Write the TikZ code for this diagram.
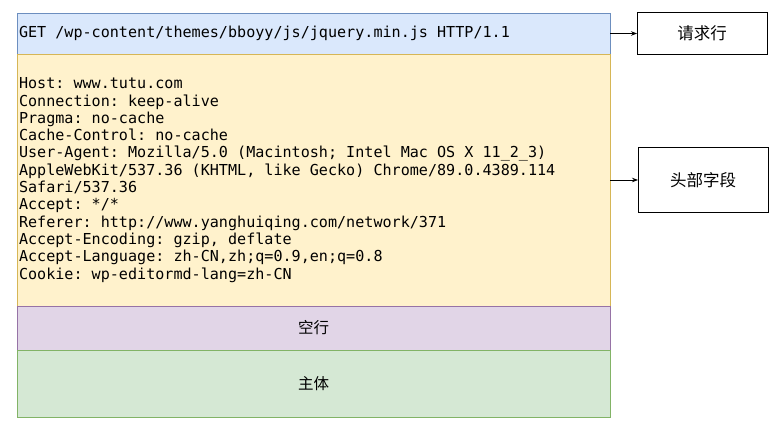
\documentclass[tikz,border=0pt]{standalone}
\usepackage{fontspec}
\setmonofont{DejaVu Sans Mono}
\newfontfamily\cjk{Noto Sans CJK SC}
\usetikzlibrary{arrows.meta,positioning}
\definecolor{reqfill}{HTML}{DAE8FC}
\definecolor{reqline}{HTML}{6C8EBF}
\definecolor{hdrfill}{HTML}{FFF2CC}
\definecolor{hdrline}{HTML}{D6B656}
\definecolor{blankfill}{HTML}{E1D5E7}
\definecolor{blankline}{HTML}{9673A6}
\definecolor{bodyfill}{HTML}{D5E8D4}
\definecolor{bodyline}{HTML}{82B366}

\begin{document}
\begin{tikzpicture}[x=1pt, y=-1pt,
        part/.style={draw, rectangle, minimum width=593pt, inner xsep=2pt, outer sep=0pt,
                     text width=589pt, align=left, line width=0.6pt,
                     font=\ttfamily\fontsize{15.1}{17.3}\selectfont,
                     execute at begin node={\spaceskip=0.602em\xspaceskip=0.602em\relax}},
        cjkpart/.style={part, align=center, font=\cjk\fontsize{15.5}{18}\selectfont},
        tag/.style={draw, rectangle, minimum width=130pt, outer sep=0pt, align=center,
                    line width=0.8pt, font=\cjk\fontsize{16.5}{19}\selectfont}
    ]
        \useasboundingbox (0,0) rectangle (784,429);
        \node[part, fill=reqfill, draw=reqline, minimum height=41pt, anchor=north west]
            (req) at (17,13) {GET /wp-content/themes/bboyy/js/jquery.min.js HTTP/1.1};
        \node[part, fill=hdrfill, draw=hdrline, minimum height=252pt, below=0pt of req] (hdr)
            {Host: www.tutu.com\\
             Connection: keep-alive\\
             Pragma: no-cache\\
             Cache-Control: no-cache\\
             User-Agent: Mozilla/5.0 (Macintosh; Intel Mac OS X 11\_2\_3)\\
             AppleWebKit/537.36 (KHTML, like Gecko) Chrome/89.0.4389.114\\
             Safari/537.36\\
             Accept: */*\\
             Referer: http://www.yanghuiqing.com/network/371\\
             Accept-Encoding: gzip, deflate\\
             Accept-Language: zh-CN,zh;q=0.9,en;q=0.8\\
             Cookie: wp-editormd-lang=zh-CN};
        \node[cjkpart, fill=blankfill, draw=blankline, minimum height=44pt, below=0pt of hdr] (blank) {空行};
        \node[cjkpart, fill=bodyfill, draw=bodyline, minimum height=67pt, below=0pt of blank] (body) {主体};

        \node[tag, minimum height=42pt, right=27pt of req] (reqtag) {请求行};
        \node[tag, minimum height=65pt, right=28pt of hdr] (hdrtag) {头部字段};

        \draw[-{Stealth[length=6pt]}, line width=0.8pt] (req) -- (reqtag);
        \draw[-{Stealth[length=6pt]}, line width=0.8pt] (hdr) -- (hdrtag);
    \end{tikzpicture}
\end{document}
